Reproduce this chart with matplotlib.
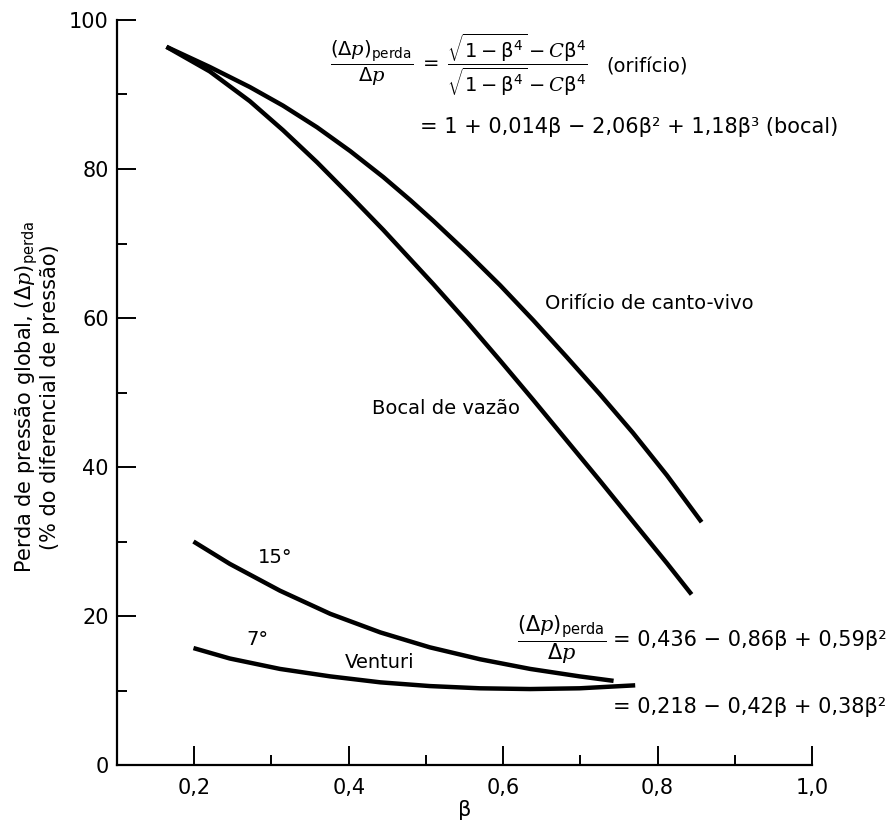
import matplotlib
matplotlib.use("Agg")
import matplotlib.pyplot as plt
from matplotlib.ticker import FixedLocator

# curves (beta, % loss)
beta_orificio = [0.164, 0.220, 0.272, 0.315, 0.359, 0.402, 0.445, 0.480, 0.510, 0.553,
                 0.596, 0.639, 0.682, 0.725, 0.768, 0.812, 0.857]
perda_orificio = [96.4, 93.7, 91.0, 88.5, 85.6, 82.4, 78.9, 75.8, 73.0, 68.8,
                  64.4, 59.7, 54.8, 49.8, 44.6, 38.9, 32.6]

beta_bocal = [0.164, 0.220, 0.272, 0.315, 0.359, 0.402, 0.445, 0.510, 0.553,
              0.596, 0.639, 0.682, 0.725, 0.768, 0.812, 0.844]
perda_bocal = [96.4, 93.1, 89.1, 85.2, 80.9, 76.4, 71.8, 64.5, 59.5,
               54.3, 49.0, 43.6, 38.2, 32.7, 27.1, 22.9]

beta_venturi15 = [0.199, 0.246, 0.311, 0.376, 0.441, 0.505, 0.570, 0.635, 0.699, 0.743]
perda_venturi15 = [30.0, 27.0, 23.4, 20.3, 17.8, 15.8, 14.2, 12.9, 11.9, 11.3]

beta_venturi7 = [0.199, 0.246, 0.311, 0.376, 0.441, 0.505, 0.570, 0.635, 0.699, 0.771]
perda_venturi7 = [15.7, 14.3, 12.9, 11.9, 11.1, 10.6, 10.3, 10.2, 10.3, 10.7]

x_ticks = [0.2, 0.4, 0.6, 0.8, 1.0]
x_tick_labels = ["0,2", "0,4", "0,6", "0,8", "1,0"]
x_minor = [0.3, 0.5, 0.7, 0.9]
y_ticks = [0, 20, 40, 60, 80, 100]
y_minor = [10, 30, 50, 70, 90]

plt.rcParams["mathtext.fontset"] = "custom"
plt.rcParams["mathtext.rm"] = "DejaVu Sans"
plt.rcParams["mathtext.sf"] = "DejaVu Sans"
plt.rcParams["mathtext.it"] = "DejaVu Serif:italic"

fig = plt.figure(figsize=(8.9, 8.26), dpi=100)
ax = fig.add_axes([0.1315, 0.0738, 0.7809, 0.902])

for xs, ys in [(beta_orificio, perda_orificio), (beta_bocal, perda_bocal),
               (beta_venturi15, perda_venturi15), (beta_venturi7, perda_venturi7)]:
    ax.plot(xs, ys, color="black", lw=3.2, solid_capstyle="butt", solid_joinstyle="round")

ax.set_xlim(0.1, 1.0)
ax.set_ylim(0, 100)
ax.spines["top"].set_visible(False)
ax.spines["right"].set_visible(False)
for s in ["left", "bottom"]:
    ax.spines[s].set_linewidth(1.6)

ax.set_xticks(x_ticks)
ax.set_xticklabels(x_tick_labels)
ax.xaxis.set_minor_locator(FixedLocator(x_minor))
ax.set_yticks(y_ticks)
ax.yaxis.set_minor_locator(FixedLocator(y_minor))
ax.tick_params(which="major", direction="in", length=14, width=1.4, labelsize=15)
ax.tick_params(which="minor", direction="in", length=7, width=1.4)
ax.tick_params(axis="x", which="major", pad=9)
ax.tick_params(axis="y", which="major", pad=6)

ax.set_xlabel("β", fontsize=15, labelpad=2)
ax.set_ylabel("Perda de pressão global, $(\\Delta p)_{\\mathrm{perda}}$\n(% do diferencial de pressão)",
              fontsize=15, linespacing=1.0)
ax.yaxis.set_label_coords(-0.082, 0.494)

# annotations
frac_perda = r"\dfrac{(\Delta p)_{\mathrm{perda}}}{\Delta p}"
frac_orif = r"\dfrac{\sqrt{1-\mathrm{\beta}^4}-C\mathrm{\beta}^4}{\sqrt{1-\mathrm{\beta}^4}-C\mathrm{\beta}^4}"
ax.text(0.376, 94.0, "$" + frac_perda + r"\;=\;" + frac_orif + "$",
        fontsize=14, va="center", ha="left")
ax.text(0.734, 93.7, "(orifício)", fontsize=14, va="center", ha="left")
ax.text(0.492, 85.6, "= 1 + 0,014β − 2,06β² + 1,18β³ (bocal)", fontsize=15, va="center", ha="left")

ax.text(0.654, 62.0, "Orifício de canto-vivo", fontsize=14, va="center", ha="left")
ax.text(0.430, 47.9, "Bocal de vazão", fontsize=14, va="center", ha="left")
ax.text(0.283, 27.8, "15°", fontsize=14, va="center", ha="left")
ax.text(0.268, 16.8, "7°", fontsize=14, va="center", ha="left")
ax.text(0.395, 13.8, "Venturi", fontsize=14, va="center", ha="left")

ax.text(0.676, 16.8, "$" + frac_perda + "$", fontsize=15, va="center", ha="center")
ax.text(0.742, 16.8, "= 0,436 − 0,86β + 0,59β²", fontsize=15, va="center", ha="left")
ax.text(0.742, 7.8, "= 0,218 − 0,42β + 0,38β²", fontsize=15, va="center", ha="left")

fig.savefig("out.png", dpi=100)
